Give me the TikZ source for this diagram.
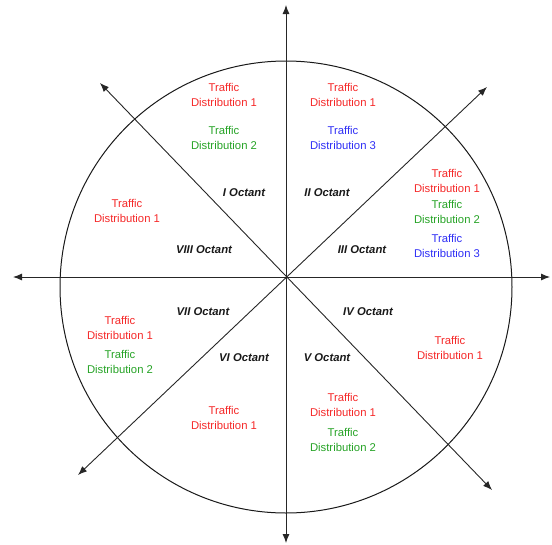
\documentclass[tikz,border=0pt]{standalone}
\usepackage{fontspec}
\setmainfont{Liberation Sans}
\usetikzlibrary{arrows.meta}
\definecolor{tdred}{HTML}{F52828}
\definecolor{tdgreen}{HTML}{26A326}
\definecolor{tdblue}{HTML}{2E2EF5}
\tikzset{
  axis/.style={draw=black!85, line width=0.9pt, {Latex[length=9pt,width=7pt]}-{Latex[length=9pt,width=7pt]}},
  ring/.style={draw=black!90, line width=1pt},
  td/.style={align=center, inner sep=0pt, font=\fontsize{11.3}{15}\selectfont},
  tdr/.style={td, text=tdred},
  tdg/.style={td, text=tdgreen},
  tdb/.style={td, text=tdblue},
  oct/.style={inner sep=0pt, font=\fontsize{11.3}{14}\selectfont\bfseries\itshape, text=black!90}
}
\begin{document}
\begin{tikzpicture}[x=1pt,y=-1pt]
\useasboundingbox (0,0) rectangle (552,544);
\coordinate (O) at (286,277);
\coordinate (C) at (286,287);
\coordinate (tN) at (286,5);
\coordinate (tS) at (286,543);
\coordinate (tW) at (13,277);
\coordinate (tE) at (550,277);
\coordinate (tNW) at (100,83);
\coordinate (tSE) at (492,490);
\coordinate (tNE) at (487,87);
\coordinate (tSW) at (78,475);
\draw[ring] (C) circle (226pt);
\draw[axis] (tS) -- (tN);
\draw[axis] (tW) -- (tE);
\draw[axis] (tNW) -- (tSE);
\draw[axis] (tSW) -- (tNE);
% distributions
\node[tdr] (a1) at (224,94.5) {Traffic\\Distribution 1};
\node[tdg] (a2) at (224,137.5) {Traffic\\Distribution 2};
\node[tdr] (b1) at (343,94.5) {Traffic\\Distribution 1};
\node[tdb] (b3) at (343,137.5) {Traffic\\Distribution 3};
\node[tdr] (c1) at (447,180.5) {Traffic\\Distribution 1};
\node[tdg] (c2) at (447,211.5) {Traffic\\Distribution 2};
\node[tdb] (c3) at (447,245.5) {Traffic\\Distribution 3};
\node[tdr] (h1) at (127,210.5) {Traffic\\Distribution 1};
\node[tdr] (g1) at (120,327.5) {Traffic\\Distribution 1};
\node[tdg] (g2) at (120,361.5) {Traffic\\Distribution 2};
\node[tdr] (d1) at (450,347.5) {Traffic\\Distribution 1};
\node[tdr] (f1) at (224,417.5) {Traffic\\Distribution 1};
\node[tdr] (e1) at (343,404.5) {Traffic\\Distribution 1};
\node[tdg] (e2) at (343,439.5) {Traffic\\Distribution 2};
% octant labels
\node[oct] (o1) at (244,193) {I Octant};
\node[oct] (o2) at (327,193) {II Octant};
\node[oct] (o3) at (362,250) {III Octant};
\node[oct] (o8) at (204,250) {VIII Octant};
\node[oct] (o7) at (203,312) {VII Octant};
\node[oct] (o4) at (368,312) {IV Octant};
\node[oct] (o6) at (244,358) {VI Octant};
\node[oct] (o5) at (327,358) {V Octant};
\end{tikzpicture}
\end{document}
